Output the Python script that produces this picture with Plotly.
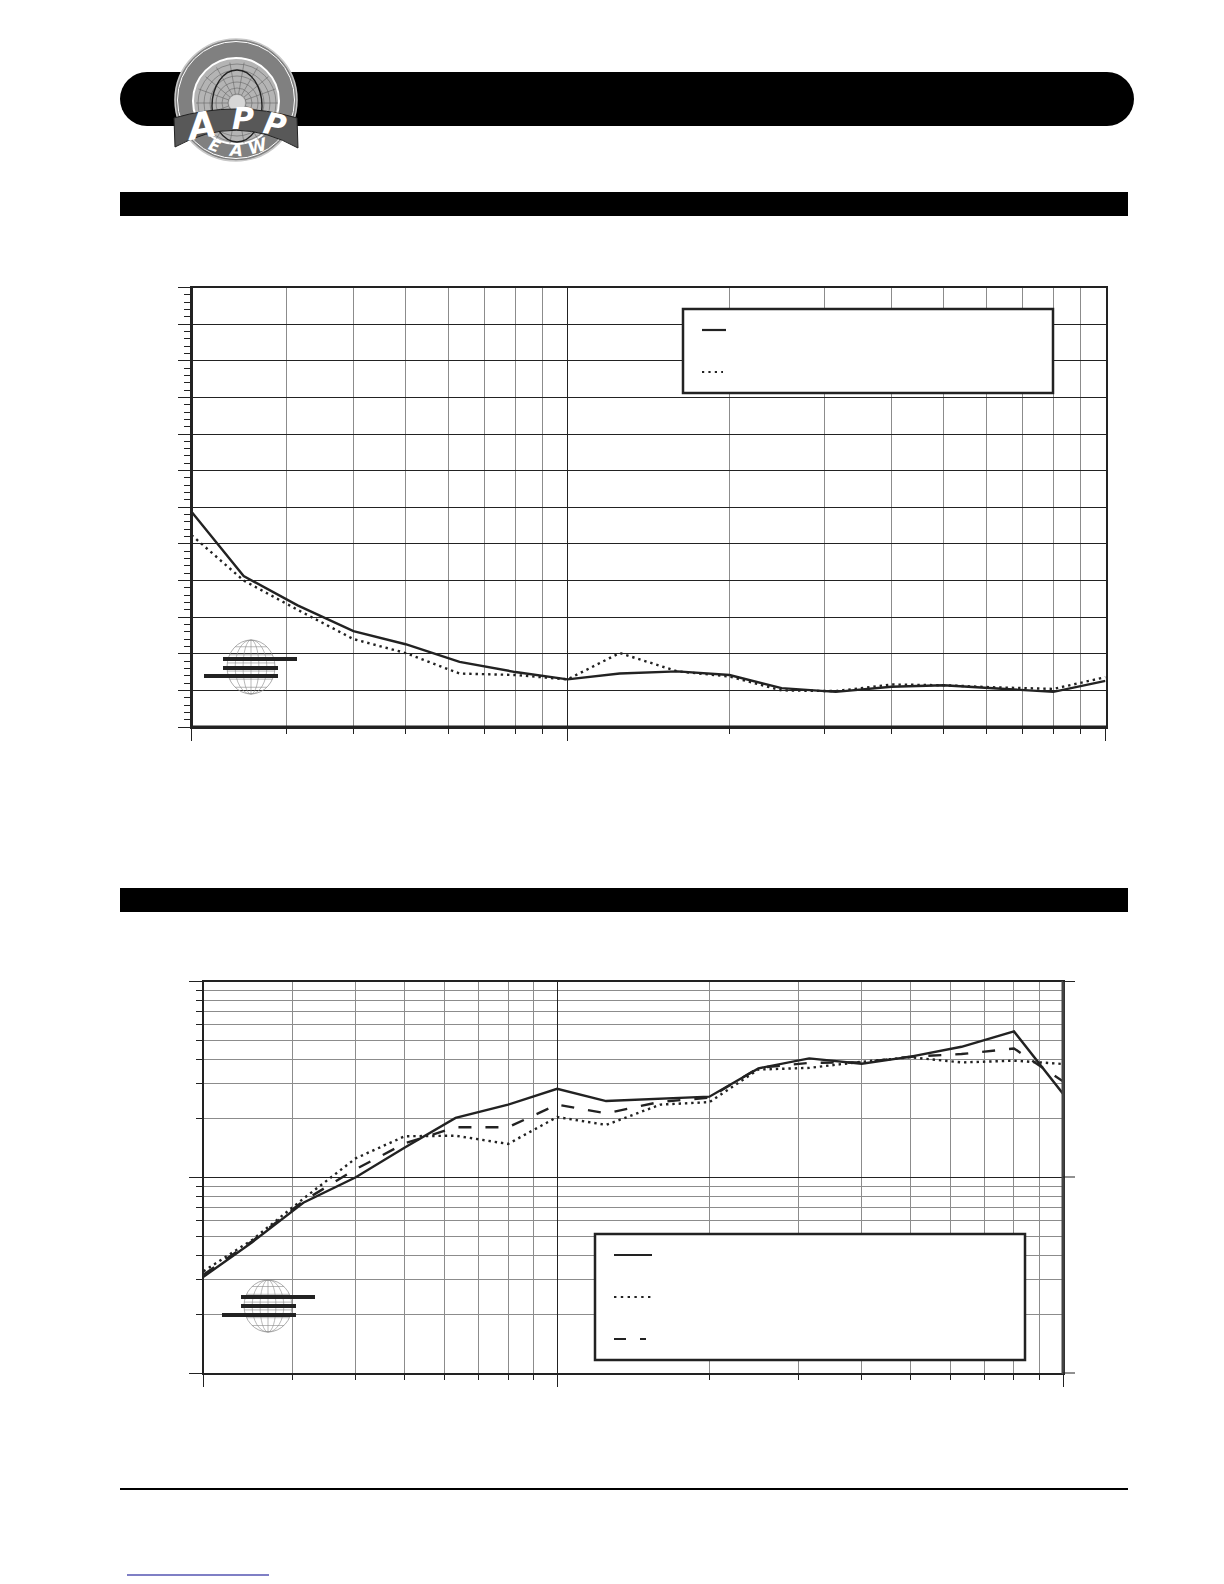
import math
import plotly.graph_objects as go

# ---------- data ----------
freq = [200, 250, 315, 400, 500, 630, 800, 1000, 1250, 1600, 2000, 2500, 3150, 4000, 5000, 6300, 8000, 10000]

top_solid = [29.4, 20.6, 16.6, 13.1, 11.3, 8.9, 7.5, 6.5, 7.3, 7.6, 7.1, 5.3, 4.8, 5.5, 5.7, 5.3, 4.8, 6.3]
top_dotted = [26.2, 20.0, 16.0, 12.0, 10.1, 7.3, 7.1, 6.5, 10.1, 7.6, 6.9, 5.0, 4.9, 5.8, 5.7, 5.4, 5.2, 6.8]

low_solid = [3.10, 4.67, 7.41, 10.0, 14.2, 20.1, 23.5, 28.3, 24.5, 25.1, 25.8, 36.0, 40.5, 38.0, 41.3, 46.4, 55.6, 26.7]
low_dotted = [3.31, 4.80, 7.77, 12.5, 16.2, 16.3, 14.8, 20.3, 18.5, 23.5, 24.2, 35.5, 36.2, 38.9, 41.0, 38.6, 39.4, 37.9]
low_dashed = [3.18, 4.73, 7.56, 11.0, 14.9, 18.0, 18.0, 23.5, 21.2, 24.3, 25.5, 36.2, 38.4, 38.6, 41.3, 42.6, 45.5, 30.9]

x_major = [200, 1000, 10000]
x_minor = [300, 400, 500, 600, 700, 800, 900, 2000, 3000, 4000, 5000, 6000, 7000, 8000, 9000]
top_y_major = [0, 5, 10, 15, 20, 25, 30, 35, 40, 45, 50, 55, 60]
top_y_minor = [v for v in range(0, 61)]
low_y_major = [1, 10, 100]
low_y_minor = [2, 3, 4, 5, 6, 7, 8, 9, 20, 30, 40, 50, 60, 70, 80, 90]

W, H = 1224, 1584
INK = "#222222"
GREY = "#8c8c8c"


def px(x):
    return x / W


def py(y):
    return 1 - y / H


fig = go.Figure()
line_solid = dict(color=INK, width=2.4)
line_dot = dict(color=INK, width=2.4, dash="2.4px,3.9px")
line_dash = dict(color=INK, width=2.4, dash="13px,14px")

fig.add_trace(go.Scatter(x=freq, y=top_solid, mode="lines", line=line_solid, xaxis="x", yaxis="y", name="solid"))
fig.add_trace(go.Scatter(x=freq, y=top_dotted, mode="lines", line=line_dot, xaxis="x", yaxis="y", name="dotted"))
fig.add_trace(go.Scatter(x=freq, y=low_solid, mode="lines", line=line_solid, xaxis="x2", yaxis="y2", name="solid"))
fig.add_trace(go.Scatter(x=freq, y=low_dotted, mode="lines", line=line_dot, xaxis="x2", yaxis="y2", name="dotted"))
fig.add_trace(go.Scatter(x=freq, y=low_dashed, mode="lines", line=line_dash, xaxis="x2", yaxis="y2", name="dashed"))


def x_axis(dom, anchor):
    return dict(
        type="log", range=[math.log10(200), 4], domain=dom, anchor=anchor,
        tickmode="array", tickvals=x_major, showticklabels=False,
        ticks="outside", ticklen=12, tickwidth=1, tickcolor=INK,
        showgrid=True, gridcolor=INK, gridwidth=1.2,
        showline=True, linecolor=INK, linewidth=1.5, mirror=True, zeroline=False,
        minor=dict(tickmode="array", tickvals=x_minor, ticks="outside", ticklen=5, tickwidth=1,
                   tickcolor=INK, showgrid=True, gridcolor=GREY, gridwidth=1.1),
    )


fig.update_layout(
    width=W, height=H, margin=dict(l=0, r=0, t=0, b=0), showlegend=False,
    paper_bgcolor="white", plot_bgcolor="white",
    xaxis=x_axis([px(191.5), px(1105.5)], "y"),
    yaxis=dict(
        type="linear", range=[0, 60], domain=[py(727), py(287.5)], anchor="x",
        tickmode="array", tickvals=top_y_major, showticklabels=False,
        ticks="outside", ticklen=12, tickwidth=1, tickcolor=INK,
        showgrid=True, gridcolor=INK, gridwidth=1.2, zeroline=False,
        showline=True, linecolor=INK, linewidth=1.5, mirror=True,
        minor=dict(tickmode="array", tickvals=top_y_minor, ticks="outside", ticklen=6, tickwidth=1,
                   tickcolor=INK, showgrid=False),
    ),
    xaxis2=x_axis([px(203.5), px(1063)], "y2"),
    yaxis2=dict(
        type="log", range=[0, 2], domain=[py(1373), py(981.5)], anchor="x2",
        tickmode="array", tickvals=low_y_major, showticklabels=False,
        ticks="outside", ticklen=13, tickwidth=1, tickcolor=INK,
        showgrid=True, gridcolor=INK, gridwidth=1.2, zeroline=False,
        showline=True, linecolor=INK, linewidth=1.5, mirror=True,
        minor=dict(tickmode="array", tickvals=low_y_minor, ticks="outside", ticklen=6, tickwidth=1,
                   tickcolor=INK, showgrid=True, gridcolor=GREY, gridwidth=1.1),
    ),
)

shapes = []
notes = []


def rect(x0, y0, x1, y1, fill="black", line=None, lw=0):
    shapes.append(dict(type="rect", xref="paper", yref="paper", x0=px(x0), x1=px(x1), y0=py(y0), y1=py(y1),
                       fillcolor=fill, line=dict(color=line or fill, width=lw), layer="above"))


def seg(x0, y0, x1, y1, color=INK, lw=1, dash=None):
    ln = dict(color=color, width=lw)
    if dash:
        ln["dash"] = dash
    shapes.append(dict(type="line", xref="paper", yref="paper", x0=px(x0), x1=px(x1), y0=py(y0), y1=py(y1),
                       line=ln, layer="above"))


def oval(cx, cy, rx, ry, fill="rgba(0,0,0,0)", line="rgba(0,0,0,0)", lw=0):
    shapes.append(dict(type="circle", xref="paper", yref="paper", x0=px(cx - rx), x1=px(cx + rx),
                       y0=py(cy + ry), y1=py(cy - ry), fillcolor=fill, line=dict(color=line, width=lw), layer="above"))


def path(d, fill, line="rgba(0,0,0,0)", lw=0):
    out = []
    for tok in d:
        if isinstance(tok, str):
            out.append(tok)
        else:
            out.append(f"{px(tok[0]):.5f},{py(tok[1]):.5f}")
    shapes.append(dict(type="path", xref="paper", yref="paper", path=" ".join(out), fillcolor=fill,
                       line=dict(color=line, width=lw), layer="above"))


# heavier frame sides
seg(191.5, 287, 191.5, 728, lw=3)
seg(190, 727, 1106, 727, lw=3)
seg(1063, 981, 1063, 1374, color="#444444", lw=3)

# header bars
rect(147, 72, 1107, 126)
oval(147, 99, 27, 27, fill="black")
oval(1107, 99, 27, 27, fill="black")
rect(120, 192, 1128, 216)
rect(120, 888, 1128, 912)
seg(120, 1489, 1128, 1489, color="black", lw=2.2)
seg(127, 1575, 269, 1575, color="#00008b", lw=1.2)

# right-hand ticks of lower chart
for yy in (981.5, 1177, 1373):
    seg(1063, yy, 1075, yy, lw=1)

# legend boxes
rect(683, 309, 1053, 393, fill="white", line=INK, lw=2.5)
seg(702, 330, 726, 330, lw=2.2)
seg(702, 372, 723, 372, lw=2.2, dash="2.2px,4.2px")
rect(595, 1234, 1025, 1360, fill="white", line=INK, lw=2.5)
seg(614, 1255, 652, 1255, lw=2.2)
seg(614, 1297, 652, 1297, lw=2.2, dash="2.4px,4.4px")
seg(614, 1339, 646, 1339, lw=2.2, dash="12px,14px")


def globe(cx, cy, rx, ry, bars):
    c = "#8a8a8a"
    oval(cx, cy, rx, ry, line=c, lw=0.7)
    for k in (0.33, 0.66):
        oval(cx, cy, rx * k, ry, line=c, lw=0.6)
    seg(cx, cy - ry, cx, cy + ry, color=c, lw=0.6)
    for f in (-0.75, -0.45, -0.15, 0.15, 0.45, 0.75):
        half = rx * math.sqrt(1 - f * f)
        seg(cx - half, cy + f * ry, cx + half, cy + f * ry, color=c, lw=0.6)
    for (x0, x1, yy) in bars:
        seg(x0, yy, x1, yy, color=INK, lw=4)


globe(251, 667, 24, 27, [(223, 297, 659), (223, 278, 668), (204, 278, 676)])
globe(268, 1306, 24, 26, [(241, 315, 1297), (241, 296, 1306), (222, 296, 1315)])

# logo
LX, LY = 236, 100
oval(LX, LY, 61, 61, fill="#808080", line="#c8c8c8", lw=1.5)
oval(LX, LY, 58.5, 58.5, line="white", lw=1)
oval(LX, LY + 1, 43, 43, fill="#b4b4b4", line="white", lw=2)
cx, cy = 237, 103
for r in (9, 15, 21, 27, 33, 39):
    oval(cx, cy, r, r, line="#666666", lw=0.6)
for a in range(0, 360, 20):
    ca, sa = math.cos(math.radians(a)), math.sin(math.radians(a))
    seg(cx + 9 * ca, cy + 9 * sa, cx + 41 * ca, cy + 41 * sa, color="#666666", lw=0.6)
oval(cx, cy + 3, 25, 36, line="#222222", lw=1.4)
oval(cx, cy, 8, 8, fill="#d6d6d6")
path(["M", (174, 118), "Q", (236, 100), (297, 118), "L", (298, 148), "Q", (236, 113), (175, 147), "Z"],
     fill="#585858", line="#222222", lw=1)
for txt, x, y, ang, size in [("A", 200, 125, -10, 36), ("P", 243, 118, 0, 30), ("P", 275, 124, 12, 30),
                              ("E", 214, 146, 20, 16), ("A", 235, 150, 2, 17), ("W", 258, 146, -18, 17)]:
    notes.append(dict(text=f"<b><i>{txt}</i></b>", x=px(x), y=py(y), xref="paper", yref="paper",
                      xanchor="center", yanchor="middle", showarrow=False, textangle=ang,
                      font=dict(family="DejaVu Sans", size=size, color="white")))

fig.update_layout(shapes=shapes, annotations=notes)
fig.write_html("out.html", config=dict(displayModeBar=False),
               post_script="document.body.style.margin='0';")
